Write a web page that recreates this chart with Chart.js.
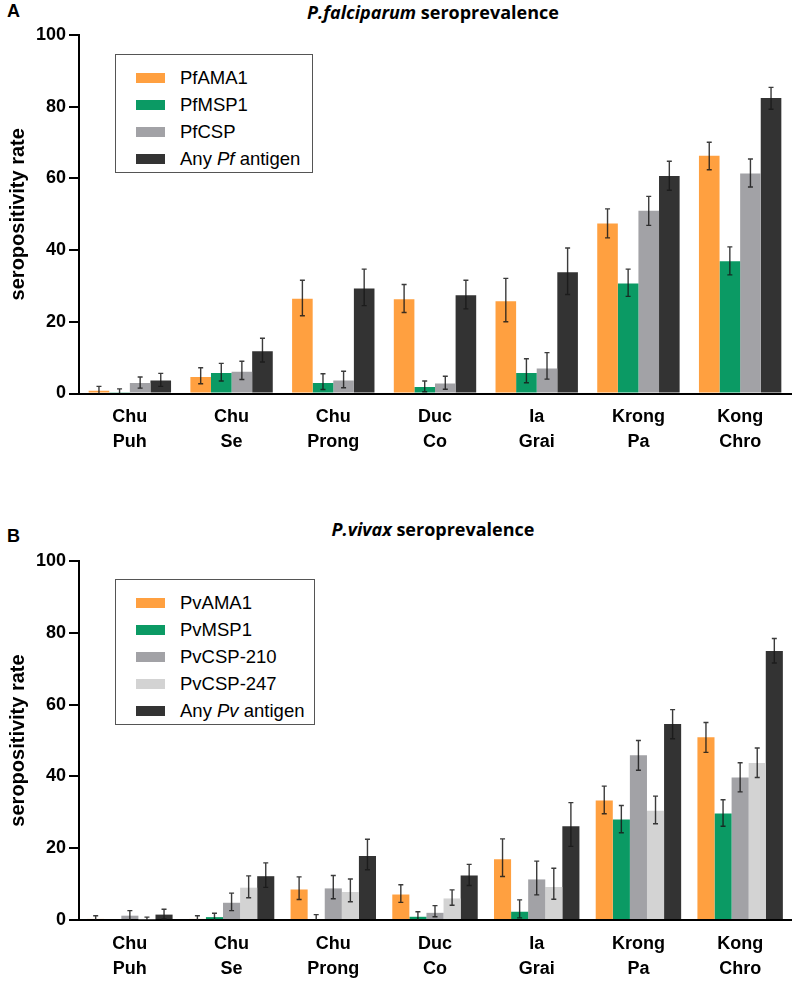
<!DOCTYPE html>
<html>
<head>
<meta charset="utf-8">
<script src="https://cdn.jsdelivr.net/npm/chart.js@4"></script>
<style>
  body { margin: 0; background: #fff; font-family: "Liberation Sans", Arial, sans-serif; }
  #page { position: relative; width: 796px; height: 982px; overflow: hidden; }
  .panel { position: absolute; left: 0; width: 796px; }
  .letter { position: absolute; left: 7px; font-weight: bold; font-size: 18px; color: #000; }
  .title { position: absolute; left: 0; width: 866px; text-align: center; font-family: "Open Sans", sans-serif; font-weight: bold; font-size: 18px; color: #000; }
  .legend { position: absolute; left: 115px; border: 1.5px solid #555; background: #fff; box-sizing: border-box; padding-top: 10px; }
  .legend .row { position: relative; height: 27px; font-size: 18.5px; color: #000; }
  .legend .sw { position: absolute; left: 20px; top: 8px; width: 29px; height: 10px; }
  .legend .txt { position: absolute; left: 64px; top: 0px; line-height: 26px; white-space: nowrap; }
</style>
</head>
<body>
<div id="page">
  <div class="letter" style="top:1px;">A</div>
  <div class="title" style="top:0px;"><i>P.falciparum</i> seroprevalence</div>
  <div class="panel" style="top:0; height:490px;"><canvas id="chartA"></canvas></div>
  <div class="legend" id="legendA" style="top:54px; width:198px; height:119px;"></div>

  <div class="letter" style="top:526px;">B</div>
  <div class="title" style="top:517px;"><i>P.vivax</i> seroprevalence</div>
  <div class="panel" style="top:490px; height:492px;"><canvas id="chartB"></canvas></div>
  <div class="legend" id="legendB" style="top:579px; width:200px; height:146px;"></div>
</div>

<script>
// district names (two lines each)
const districts = [['Chu', 'Puh'], ['Chu', 'Se'], ['Chu', 'Prong'], ['Duc', 'Co'], ['Ia', 'Grai'], ['Krong', 'Pa'], ['Kong', 'Chro']];
const yTicks = [0, 20, 40, 60, 80, 100];

// colours
const orange = '#FFA040';
const green = '#0B9A64';
const grey = '#A2A2A6';
const lightGrey = '#D3D3D3';
const dark = '#333333';

// ---- panel A, P.falciparum (value, lower, upper)
const pfAMA1 = [0.8, 4.6, 26.4, 26.3, 25.7, 47.4, 66.3];
const pfAMA1Lo = [0, 2.7, 21.7, 22.6, 20.0, 43.4, 62.4];
const pfAMA1Hi = [2.0, 7.2, 31.6, 30.4, 32.1, 51.5, 70.1];

const pfMSP1 = [0.2, 5.7, 2.9, 1.8, 5.7, 30.7, 36.9];
const pfMSP1Lo = [0, 3.5, 1.1, 0.5, 3.0, 27.1, 33.1];
const pfMSP1Hi = [1.3, 8.4, 5.5, 3.5, 9.7, 34.7, 40.9];

const pfCSP = [2.9, 6.1, 3.6, 2.8, 7.0, 51.0, 61.4];
const pfCSPLo = [1.5, 3.9, 1.6, 1.2, 4.0, 46.9, 57.6];
const pfCSPHi = [4.6, 9.0, 6.2, 4.8, 11.4, 55.0, 65.4];

const pfAny = [3.6, 11.8, 29.3, 27.4, 33.8, 60.7, 82.4];
const pfAnyLo = [2.0, 8.8, 24.5, 23.6, 27.6, 56.7, 79.3];
const pfAnyHi = [5.6, 15.4, 34.7, 31.6, 40.6, 64.8, 85.4];

// ---- panel B, P.vivax
const pvAMA1 = [0.3, 0.3, 8.5, 7.1, 16.9, 33.3, 50.9];
const pvAMA1Lo = [0, 0, 5.7, 4.9, 12.1, 29.6, 46.7];
const pvAMA1Hi = [1.2, 1.2, 12.0, 9.8, 22.6, 37.3, 55.0];

const pvMSP1 = [0, 0.8, 0, 0.9, 2.3, 28.0, 29.7];
const pvMSP1Lo = [0, 0, 0, 0, 0.6, 24.3, 26.1];
const pvMSP1Hi = [0, 1.9, 1.5, 2.3, 5.6, 31.9, 33.5];

const pvCSP210 = [1.2, 4.8, 8.8, 2.0, 11.3, 45.9, 39.7];
const pvCSP210Lo = [0, 2.6, 5.9, 0.9, 7.0, 41.7, 35.7];
const pvCSP210Hi = [2.6, 7.5, 12.4, 4.0, 16.4, 50.0, 43.8];

const pvCSP247 = [0.2, 9.0, 7.8, 6.0, 9.2, 30.4, 43.7];
const pvCSP247Lo = [0, 6.2, 5.1, 4.1, 5.8, 26.8, 39.7];
const pvCSP247Hi = [0.8, 12.3, 11.4, 8.4, 14.4, 34.5, 47.9];

const pvAny = [1.5, 12.2, 17.8, 12.4, 26.1, 54.6, 74.9];
const pvAnyLo = [0.3, 9.1, 14.0, 9.6, 20.5, 50.5, 71.6];
const pvAnyHi = [3.0, 15.9, 22.5, 15.5, 32.7, 58.6, 78.4];

// legend labels (html so the species bit can be italic)
const pfLabels = ['PfAMA1', 'PfMSP1', 'PfCSP', 'Any <i>Pf</i> antigen'];
const pvLabels = ['PvAMA1', 'PvMSP1', 'PvCSP-210', 'PvCSP-247', 'Any <i>Pv</i> antigen'];

// error bars, drawn after the bars using the y scale
const errorBars = {
    id: 'errorBars',
    afterDatasetsDraw(chart) {
        const ctx = chart.ctx;
        const yScale = chart.scales.y;
        ctx.save();
        ctx.strokeStyle = 'rgba(25,25,25,0.85)';
        ctx.lineWidth = 1.4;
        chart.data.datasets.forEach((ds, i) => {
            const meta = chart.getDatasetMeta(i);
            meta.data.forEach((bar, j) => {
                const lo = ds.errLo[j];
                const hi = ds.errHi[j];
                if (hi === lo) return;
                const x = bar.x;
                const y1 = yScale.getPixelForValue(lo);
                const y2 = yScale.getPixelForValue(hi);
                ctx.beginPath();
                ctx.moveTo(x, y1); ctx.lineTo(x, y2);
                ctx.moveTo(x - 2.5, y2); ctx.lineTo(x + 2.5, y2);
                if (lo > 0) { ctx.moveTo(x - 2.5, y1); ctx.lineTo(x + 2.5, y1); }
                ctx.stroke();
            });
        });
        ctx.restore();
    }
};

function makeChart(id, datasets, xHeight, catPct, padTop) {
    return new Chart(document.getElementById(id), {
        type: 'bar',
        data: { labels: districts, datasets: datasets },
        options: {
            responsive: true,
            maintainAspectRatio: false,
            animation: false,
            layout: { padding: { top: padTop, right: 5, left: 0, bottom: 0 } },
            datasets: { bar: { categoryPercentage: catPct, barPercentage: 1 } },
            plugins: { legend: { display: false }, tooltip: { enabled: false } },
            scales: {
                x: {
                    afterFit: (s) => { s.height = xHeight; },
                    grid: { display: false, drawTicks: false },
                    border: { display: true, color: '#000', width: 2 },
                    ticks: { color: '#000', padding: 11, font: { family: 'Liberation Sans, Arial', size: 18, weight: 'bold', lineHeight: 1.4 } }
                },
                y: {
                    min: 0, max: 100,
                    afterFit: (s) => { s.width = 79; },
                    afterBuildTicks: (s) => { s.ticks = yTicks.map(v => ({ value: v })); },
                    grid: { drawOnChartArea: false, drawTicks: true, tickLength: 10, color: '#000', lineWidth: 2 },
                    border: { display: true, color: '#000', width: 2 },
                    ticks: { color: '#000', padding: 3, font: { family: 'Liberation Sans, Arial', size: 18, weight: 'bold' } },
                    title: { display: true, text: 'seropositivity rate', color: '#000', padding: { top: 6, bottom: 0 },
                        font: { family: 'Liberation Sans, Arial', size: 20, weight: 'bold' } }
                }
            }
        },
        plugins: [errorBars]
    });
}

function bar(label, data, lo, hi, color) {
    return { label: label, data: data, errLo: lo, errHi: hi, backgroundColor: color, borderWidth: 0 };
}

// html legend
function makeLegend(id, labels, colors) {
    const box = document.getElementById(id);
    labels.forEach((lab, i) => {
        const row = document.createElement('div');
        row.className = 'row';
        row.innerHTML = '<span class="sw" style="background:' + colors[i] + '"></span><span class="txt">' + lab + '</span>';
        box.appendChild(row);
    });
}

const pfColors = [orange, green, grey, dark];
const pvColors = [orange, green, grey, lightGrey, dark];

makeChart('chartA', [
    bar('PfAMA1', pfAMA1, pfAMA1Lo, pfAMA1Hi, orange),
    bar('PfMSP1', pfMSP1, pfMSP1Lo, pfMSP1Hi, green),
    bar('PfCSP', pfCSP, pfCSPLo, pfCSPHi, grey),
    bar('Any Pf antigen', pfAny, pfAnyLo, pfAnyHi, dark)
], 96.5, 0.81, 35);

makeChart('chartB', [
    bar('PvAMA1', pvAMA1, pvAMA1Lo, pvAMA1Hi, orange),
    bar('PvMSP1', pvMSP1, pvMSP1Lo, pvMSP1Hi, green),
    bar('PvCSP-210', pvCSP210, pvCSP210Lo, pvCSP210Hi, grey),
    bar('PvCSP-247', pvCSP247, pvCSP247Lo, pvCSP247Hi, lightGrey),
    bar('Any Pv antigen', pvAny, pvAnyLo, pvAnyHi, dark)
], 62, 0.84, 71);

makeLegend('legendA', pfLabels, pfColors);
makeLegend('legendB', pvLabels, pvColors);
</script>
</body>
</html>
